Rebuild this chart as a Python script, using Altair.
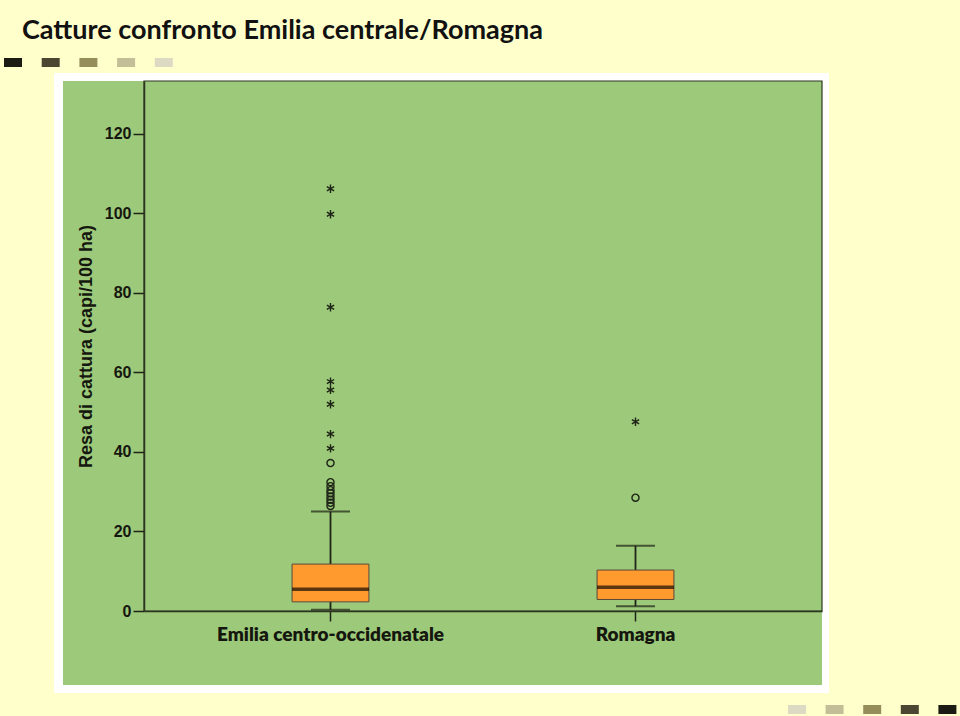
import altair as alt
import pandas as pd

# ---- data ----
categories = ["Emilia centro-occidenatale", "Romagna"]
q1 = [2.3, 2.9]
median = [5.5, 6.0]
q3 = [11.8, 10.3]
whisker_low = [0.3, 1.2]
whisker_high = [25.0, 16.4]

emilia_circles = [37.2, 32.4, 31.4, 30.4, 29.6, 28.8, 28.0, 27.2, 26.4]
emilia_stars = [106.2, 99.8, 76.4, 57.7, 55.6, 52.0, 44.5, 40.9]
romagna_circles = [28.5]
romagna_stars = [47.6]

y_ticks = [0, 20, 40, 60, 80, 100, 120]
title_text = "Catture confronto Emilia centrale/Romagna"
y_title = "Resa di cattura (capi/100 ha)"
square_colors = ["#1b1a13", "#4a4631", "#958e5b", "#c3be97", "#dddac4"]

# ---- tables ----
boxes = pd.DataFrame({
    "cat": categories, "q1": q1, "median": median, "q3": q3,
    "lo": whisker_low, "hi": whisker_high,
})
circles = pd.DataFrame({
    "cat": [categories[0]] * len(emilia_circles) + [categories[1]] * len(romagna_circles),
    "v": emilia_circles + romagna_circles,
})
stars = pd.DataFrame({
    "cat": [categories[0]] * len(emilia_stars) + [categories[1]] * len(romagna_stars),
    "v": emilia_stars + romagna_stars,
})
one = pd.DataFrame({"a": [0]})

W, H = 678, 530
DARK = "#1e2416"

xscale = alt.Scale(domain=categories, paddingInner=0.748, paddingOuter=0.4855)
yscale = alt.Scale(domain=[0, 133.3], nice=False, zero=True)

xaxis = alt.Axis(
    title=None, labelAngle=0, labelFont="Lato", labelFontWeight=800,
    labelFontSize=19, labelColor="#15170f", labelPadding=4, labelLimit=0,
    tickSize=10, tickColor=DARK, tickWidth=1.5,
    domainColor="#2c3620", domainWidth=1.5, grid=False, zindex=1,
)
yaxis = alt.Axis(
    title=y_title, values=y_ticks, grid=False, zindex=1,
    labelFont="Liberation Sans", labelFontWeight="bold", labelFontSize=16,
    labelColor="#15170f", labelPadding=2,
    tickSize=11, tickColor=DARK, tickWidth=1.5,
    domainColor="#2c3620", domainWidth=1.5,
    titleFont="Liberation Sans", titleFontWeight="bold", titleFontSize=18,
    titleColor="#15170f", titlePadding=9,
)

X = alt.X("cat:N", scale=xscale, axis=xaxis, sort=categories)

# ---- decorations (slide background pieces) ----
deco = []
deco.append(alt.Chart(one).mark_rect(color="#ffffff").encode(
    x=alt.value(-90), x2=alt.value(685), y=alt.value(-8), y2=alt.value(612)))
deco.append(alt.Chart(one).mark_rect(color="#9dc97a").encode(
    x=alt.value(-81), x2=alt.value(W), y=alt.value(0), y2=alt.value(604)))
for i, c in enumerate(square_colors):
    x0 = -140 + i * 37.7
    deco.append(alt.Chart(one).mark_rect(color=c).encode(
        x=alt.value(x0), x2=alt.value(x0 + 18), y=alt.value(-23), y2=alt.value(-14)))
for i, c in enumerate(reversed(square_colors)):
    x0 = 644 + i * 37.6
    deco.append(alt.Chart(one).mark_rect(color=c).encode(
        x=alt.value(x0), x2=alt.value(x0 + 18), y=alt.value(624), y2=alt.value(633)))
deco.append(alt.Chart(one).mark_text(
    text=title_text, font="Lato", fontWeight="bold", fontSize=27,
    color="#111111", align="left", baseline="alphabetic").encode(
    x=alt.value(-122), y=alt.value(-42)))

# ---- plot marks ----
base = alt.Chart(boxes)
whisk = base.mark_rule(color=DARK, strokeWidth=1.8).encode(
    x=X, y=alt.Y("lo:Q", scale=yscale, axis=yaxis), y2="hi:Q")
caps_hi = base.mark_tick(color=DARK, size=39, thickness=2).encode(
    x=X, y=alt.Y("hi:Q", scale=yscale))
caps_lo = base.mark_tick(color=DARK, size=39, thickness=2).encode(
    x=X, y=alt.Y("lo:Q", scale=yscale))
box = base.mark_bar(color="#ff9a2e", stroke="#5a4a3a", strokeWidth=1).encode(
    x=X, y=alt.Y("q1:Q", scale=yscale), y2="q3:Q")
med = base.mark_tick(color="#140a03", size=77, thickness=3.5).encode(
    x=X, y=alt.Y("median:Q", scale=yscale))

circ = alt.Chart(circles).mark_point(
    shape="circle", filled=False, color=DARK, size=50, strokeWidth=1.4, opacity=1).encode(
    x=X, y=alt.Y("v:Q", scale=yscale))
star_path = "M0,-1L0,1M-0.866,-0.5L0.866,0.5M-0.866,0.5L0.866,-0.5"
star = alt.Chart(stars).mark_point(
    shape=star_path, filled=False, color=DARK, size=70, strokeWidth=1.4, opacity=1).encode(
    x=X, y=alt.Y("v:Q", scale=yscale))

frame = alt.Chart(one).mark_rect(filled=False, stroke="#2c3620", strokeWidth=1.2).encode(
    x=alt.value(0), x2=alt.value(W), y=alt.value(0), y2=alt.value(H))

chart = alt.layer(
    *deco, whisk, caps_hi, caps_lo, box, med, circ, star, frame
).resolve_scale(x="shared", y="shared").properties(
    width=W, height=H,
    background="#ffffcc",
    padding={"left": 144, "top": 81, "right": 138, "bottom": 105},
    autosize=alt.AutoSizeParams(type="none"),
).configure_view(stroke=None)

chart.save("out.html", embed_options={"renderer": "svg", "actions": False})
